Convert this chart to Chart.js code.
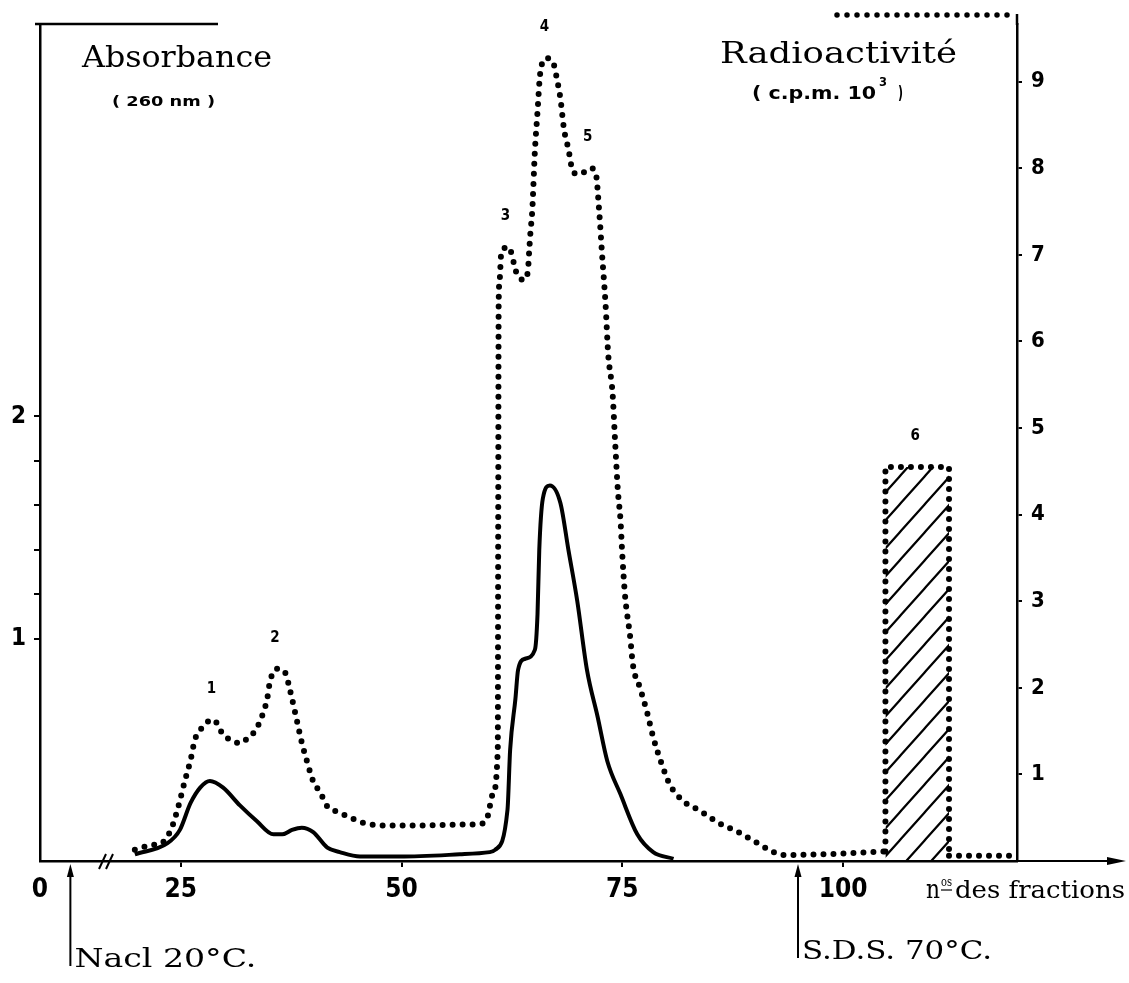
<!DOCTYPE html>
<html>
<head>
<meta charset="utf-8">
<script src="https://cdn.jsdelivr.net/npm/chart.js@4.4.1/dist/chart.umd.min.js"></script>
<style>
  html, body { margin: 0; padding: 0; background: #fff; }
  #wrap { width: 1129px; height: 983px; position: relative; }
</style>
</head>
<body>
<div id="wrap"><canvas id="mycanvas"></canvas></div>
<script>
// values (fraction numbers on x)
var xTickLabels = [0, 25, 50, 75, 100];
var xAxisStart = 9.06;   // the axis is broken: "0" sits at the origin
var xAxisEnd = 119.7;

var absFractions = [19.8, 23.5, 24.9, 26.1, 27.2, 28.3, 29.8, 31.7, 33.6, 35.5,
  36.5, 37.6, 38.7, 40.0, 41.6, 43.0, 45.3, 49.8, 56.6, 60.0,
  60.6, 62.0, 62.3, 62.9, 63.2, 64.0, 65.1, 65.4, 65.6, 66.0,
  66.8, 68.0, 68.9, 69.9, 71.0, 72.2, 73.3, 74.8, 76.7, 78.5, 80.8];
var absValues = [0.03, 0.08, 0.14, 0.26, 0.33, 0.36, 0.33, 0.25, 0.18, 0.12,
  0.12, 0.14, 0.15, 0.13, 0.06, 0.04, 0.02, 0.02, 0.03, 0.04,
  0.05, 0.23, 0.50, 0.73, 0.86, 0.91, 0.95, 1.11, 1.40, 1.63,
  1.69, 1.61, 1.40, 1.17, 0.86, 0.65, 0.45, 0.30, 0.12, 0.04, 0.01];

var radioFractions = [19.8, 21.5, 23.0, 24.0, 24.7, 25.5, 26.1, 26.6, 27.2, 27.8,
  28.7, 29.8, 30.8, 31.7, 32.6, 33.4, 34.3, 34.8, 35.1, 35.9,
  36.8, 37.4, 38.2, 38.7, 39.3, 40.0, 40.8, 41.6, 42.7, 43.8,
  45.7, 47.9, 52.1, 56.6, 59.1, 59.8, 60.3, 60.9, 60.95, 61.0,
  61.1, 61.3, 62.1, 63.1, 63.8, 64.3, 64.45, 64.6, 64.8, 65.1,
  65.4, 65.7, 66.4, 67.2, 67.6, 68.0, 68.4, 68.9, 69.3, 69.9,
  70.6, 71.4, 72.0, 72.4, 72.7, 73.1, 73.4, 73.9, 74.2, 74.5,
  74.8, 75.0, 75.3, 75.9, 76.2, 77.0, 77.8, 78.5, 79.5, 80.4,
  81.8, 83.8, 85.9, 88.0, 90.1, 91.8, 93.1, 98.6, 104.6];
var radioValues = [0.13, 0.18, 0.22, 0.39, 0.62, 0.94, 1.16, 1.40, 1.51, 1.59,
  1.63, 1.46, 1.39, 1.36, 1.42, 1.50, 1.70, 1.88, 2.07, 2.22,
  2.18, 1.96, 1.60, 1.37, 1.15, 0.92, 0.79, 0.63, 0.57, 0.52,
  0.44, 0.41, 0.41, 0.42, 0.43, 0.53, 0.76, 1.29, 3.95, 6.42,
  6.69, 7.02, 7.09, 6.77, 6.71, 6.80, 7.03, 7.26, 7.50, 8.19,
  8.65, 9.09, 9.27, 9.21, 9.03, 8.80, 8.45, 8.22, 8.00, 7.93,
  7.95, 8.00, 7.94, 7.48, 7.02, 6.44, 5.86, 5.40, 4.82, 4.28,
  3.93, 3.54, 3.08, 2.58, 2.27, 2.00, 1.72, 1.43, 1.11, 0.88,
  0.70, 0.58, 0.44, 0.34, 0.22, 0.12, 0.07, 0.08, 0.11];

// fraction 6 (S.D.S. eluate), drawn as a hatched block
var bar6Fractions = [104.8, 112.0];
var bar6Value = 4.55;
var tailFractions = [112.0, 119.7];
var tailValues = [0.06, 0.06];

var peakNames = ['1', '2', '3', '4', '5', '6'];
var peakFractions = [28.7, 35.9, 62.0, 66.4, 71.3, 108.4];
var peakRadio = [1.63, 2.22, 7.09, 9.27, 8.00, 4.55];

var eventNames = ['Nacl 20°C.', 'S.D.S. 70°C.'];
var eventFractions = [12.5, 94.9];

var absTicks = [1, 1.2, 1.4, 1.6, 1.8, 2];
var radioTicks = [1, 2, 3, 4, 5, 6, 7, 8, 9];

function pts(xs, ys) {
  return xs.map(function (x, i) { return { x: x, y: ys[i] }; });
}

function hatch() {
  var c = document.createElement('canvas');
  c.width = 25; c.height = 28;
  var g = c.getContext('2d');
  g.strokeStyle = '#000';
  g.lineWidth = 2.2;
  g.beginPath();
  g.moveTo(-2, 30.2); g.lineTo(27, -2.2);
  g.moveTo(-2, 2.2); g.lineTo(2, -2.2);
  g.moveTo(23, 30.2); g.lineTo(27, 25.8);
  g.stroke();
  return g.createPattern(c, 'repeat');
}

function drawFit(ctx, text, x, y, w, font) {
  ctx.font = font;
  var m = ctx.measureText(text).width;
  ctx.save();
  ctx.translate(x, y);
  ctx.scale(w / m, 1);
  ctx.textAlign = 'left';
  ctx.textBaseline = 'alphabetic';
  ctx.fillText(text, 0, 0);
  ctx.restore();
}

var NUM = "'Liberation Sans Narrow', 'DejaVu Sans Condensed', 'Liberation Sans', sans-serif";
var SERIF = "'DejaVu Serif', 'Liberation Serif', serif";
var SANS = "'DejaVu Sans', 'Liberation Sans', sans-serif";

var decor = {
  id: 'decor',
  afterDraw: function (chart) {
    var ctx = chart.ctx, a = chart.chartArea;
    var xs = chart.scales.x, yR = chart.scales.yR;
    ctx.save();
    ctx.strokeStyle = '#000';
    ctx.fillStyle = '#000';

    // top of the absorbance axis
    ctx.lineWidth = 2.5;
    ctx.beginPath(); ctx.moveTo(a.left - 5, a.top); ctx.lineTo(218, a.top); ctx.stroke();
    // radioactivity axis goes a bit higher, with a dotted cap
    ctx.beginPath(); ctx.moveTo(a.right, a.top + 1); ctx.lineTo(a.right, 14); ctx.stroke();
    ctx.setLineDash([0, 10]); ctx.lineCap = 'round'; ctx.lineWidth = 5.5;
    ctx.beginPath(); ctx.moveTo(837, 15); ctx.lineTo(a.right - 6, 15); ctx.stroke();
    ctx.setLineDash([]); ctx.lineCap = 'butt';

    // x axis carries on to an arrow
    ctx.lineWidth = 2;
    ctx.beginPath(); ctx.moveTo(a.right, a.bottom); ctx.lineTo(1112, a.bottom); ctx.stroke();
    ctx.beginPath();
    ctx.moveTo(1107, a.bottom - 4); ctx.lineTo(1126, a.bottom); ctx.lineTo(1107, a.bottom + 4);
    ctx.closePath(); ctx.fill();

    // axis break //
    ctx.lineWidth = 2;
    ctx.beginPath();
    ctx.moveTo(99, a.bottom + 8); ctx.lineTo(106, a.bottom - 7);
    ctx.moveTo(106, a.bottom + 8); ctx.lineTo(113, a.bottom - 7);
    ctx.stroke();

    // titles
    drawFit(ctx, 'Absorbance', 82, 67, 190, '30px ' + SERIF);
    drawFit(ctx, '( 260 nm )', 112, 106, 103, '600 14px ' + SANS);
    drawFit(ctx, 'Radioactivité', 720, 63, 237, '30px ' + SERIF);
    drawFit(ctx, '( c.p.m. 10', 752, 99, 124, '600 17px ' + SANS);
    drawFit(ctx, '3', 879, 86, 8, '600 13px ' + SANS);
    drawFit(ctx, ')', 898, 99, 5, '600 17px ' + SANS);

    // x axis name
    drawFit(ctx, 'n', 926, 898, 14, '26px ' + SERIF);
    drawFit(ctx, 'os', 941, 886, 11, '12px ' + SERIF);
    ctx.lineWidth = 1.2;
    ctx.beginPath(); ctx.moveTo(941, 890); ctx.lineTo(952, 890); ctx.stroke();
    drawFit(ctx, 'des fractions', 955, 898, 170, '24px ' + SERIF);

    // peak numbers
    ctx.font = 'bold 15px ' + NUM;
    ctx.textAlign = 'center';
    ctx.textBaseline = 'middle';
    peakNames.forEach(function (n, i) {
      var px = xs.getPixelForValue(peakFractions[i]);
      var py = yR.getPixelForValue(peakRadio[i]) - 31;
      ctx.fillText(n, px - 2, py);
    });

    // elution steps
    ctx.lineWidth = 2;
    eventNames.forEach(function (n, i) {
      var px = xs.getPixelForValue(eventFractions[i]);
      var yb = i === 0 ? 966 : 958;
      ctx.beginPath(); ctx.moveTo(px, a.bottom + 10); ctx.lineTo(px, yb); ctx.stroke();
      ctx.beginPath();
      ctx.moveTo(px - 3.5, a.bottom + 16); ctx.lineTo(px, a.bottom + 3); ctx.lineTo(px + 3.5, a.bottom + 16);
      ctx.closePath(); ctx.fill();
      drawFit(ctx, n, px + 4, yb + 1, i === 0 ? 182 : 190, '26px ' + SERIF);
    });
    ctx.restore();
  }
};

var ctx = document.getElementById('mycanvas').getContext('2d');

var chartdata = {
  datasets: [
    {
      label: 'Absorbance (260 nm)',
      yAxisID: 'yA',
      data: pts(absFractions, absValues),
      borderColor: '#000',
      borderWidth: 4,
      pointRadius: 0,
      fill: false,
      cubicInterpolationMode: 'monotone'
    },
    {
      label: 'Radioactivité (c.p.m. 10³)',
      yAxisID: 'yR',
      data: pts(radioFractions, radioValues),
      borderColor: '#000',
      borderWidth: 6,
      borderDash: [0, 10],
      borderCapStyle: 'round',
      pointRadius: 0,
      fill: false,
      cubicInterpolationMode: 'monotone'
    },
    {
      label: 'Fraction 6',
      yAxisID: 'yR',
      data: [
        { x: bar6Fractions[0], y: radioValues[radioValues.length - 1] },
        { x: bar6Fractions[0], y: bar6Value },
        { x: bar6Fractions[1], y: bar6Value },
        { x: bar6Fractions[1], y: tailValues[0] }
      ],
      borderColor: '#000',
      borderWidth: 6,
      borderDash: [0, 10],
      borderCapStyle: 'round',
      pointRadius: 0,
      tension: 0,
      backgroundColor: hatch(),
      fill: { value: 0 }
    },
    {
      label: 'tail',
      yAxisID: 'yR',
      data: pts(tailFractions, tailValues),
      borderColor: '#000',
      borderWidth: 6,
      borderDash: [0, 10],
      borderCapStyle: 'round',
      pointRadius: 0,
      tension: 0,
      fill: false
    }
  ]
};

var chart = new Chart(ctx, {
  type: 'line',
  data: chartdata,
  plugins: [decor],
  options: {
    responsive: true,
    maintainAspectRatio: false,
    animation: false,
    layout: { padding: { left: 0, right: 0, top: 24, bottom: 0 } },
    plugins: { legend: { display: false }, tooltip: { enabled: false } },
    scales: {
      x: {
        type: 'linear',
        min: xAxisStart,
        max: xAxisEnd,
        afterBuildTicks: function (s) {
          s.ticks = xTickLabels.map(function (v) { return { value: v === 0 ? xAxisStart : v }; });
        },
        afterFit: function (s) { s.height = 122; },
        border: { display: true, color: '#000', width: 2.5 },
        grid: {
          drawOnChartArea: false,
          drawTicks: true,
          tickLength: 6,
          lineWidth: 2,
          color: function (c) { return (c.tick && c.tick.value === xAxisStart) ? 'rgba(0,0,0,0)' : '#000'; }
        },
        ticks: {
          autoSkip: false,
          maxRotation: 0,
          padding: 8,
          color: '#000',
          font: { family: NUM, size: 26, weight: 'bold' },
          callback: function (v) { return v === xAxisStart ? '0' : String(v); }
        }
      },
      yA: {
        type: 'linear',
        position: 'left',
        min: 0,
        max: 3.766,
        afterBuildTicks: function (s) {
          s.ticks = absTicks.map(function (v) { return { value: v }; });
        },
        afterFit: function (s) { s.width = 40; },
        border: { display: true, color: '#000', width: 2.5 },
        grid: { drawOnChartArea: false, drawTicks: true, tickLength: 6, lineWidth: 2, color: '#000' },
        ticks: {
          padding: 8,
          color: '#000',
          font: { family: NUM, size: 24, weight: 'bold' },
          callback: function (v) { return (v === 1 || v === 2) ? String(v) : ''; }
        }
      },
      yR: {
        type: 'linear',
        position: 'right',
        min: 0,
        max: 9.665,
        afterBuildTicks: function (s) {
          s.ticks = radioTicks.map(function (v) { return { value: v }; });
        },
        afterFit: function (s) { s.width = 112; },
        border: { display: true, color: '#000', width: 2.5 },
        grid: { drawOnChartArea: false, drawTicks: true, tickLength: 5, lineWidth: 2, color: '#000' },
        ticks: {
          padding: 9,
          color: '#000',
          font: { family: NUM, size: 22, weight: 'bold' }
        }
      }
    }
  }
});
</script>
</body>
</html>
